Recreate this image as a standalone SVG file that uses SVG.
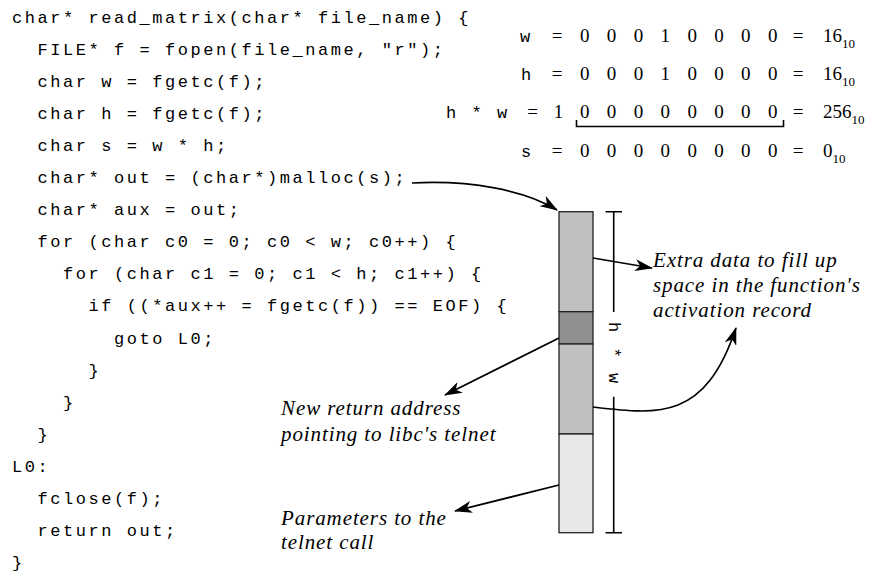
<svg xmlns="http://www.w3.org/2000/svg" width="871" height="572" viewBox="0 0 871 572">
  <style>
    .code { font-family: "Liberation Mono", "DejaVu Sans Mono", monospace; font-size: 17px; letter-spacing: 2.55px; fill: #000; }
    .mono { font-family: "Liberation Mono", "DejaVu Sans Mono", monospace; font-size: 17px; letter-spacing: 2.55px; fill: #000; }
    .num { font-family: "Liberation Serif", "DejaVu Serif", serif; font-size: 19px; fill: #000; }
    .digits { font-family: "Liberation Serif", "DejaVu Serif", serif; font-size: 19px; letter-spacing: 6.3px; fill: #000; }
    .sub { font-size: 13px; }
    .eq { text-anchor: middle; }
    .label { font-family: "Liberation Serif", "DejaVu Serif", serif; font-style: italic; font-size: 21px; letter-spacing: 0.9px; fill: #000; }
    .seg { stroke: #222; stroke-width: 1.3; }
    .conn { fill: none; stroke: #000; stroke-width: 1.7; }
    .dim { fill: none; stroke: #000; stroke-width: 1.6; }
  </style>
  <defs>
    <marker id="ah" markerUnits="userSpaceOnUse" markerWidth="18" markerHeight="12" viewBox="0 0 18 12" refX="17" refY="6" orient="auto">
      <path d="M0,0 L18,6 L0,12 L5,6 z" fill="#000"/>
    </marker>
  </defs>

  <g id="code">
    <text class="code" x="12" y="22.5">char* read_matrix(char* file_name) {</text>
    <text class="code" x="37.5" y="54.6">FILE* f = fopen(file_name, "r");</text>
    <text class="code" x="37.5" y="86.7">char w = fgetc(f);</text>
    <text class="code" x="37.5" y="118.8">char h = fgetc(f);</text>
    <text class="code" x="37.5" y="150.9">char s = w * h;</text>
    <text class="code" x="37.5" y="183">char* out = (char*)malloc(s);</text>
    <text class="code" x="37.5" y="215.1">char* aux = out;</text>
    <text class="code" x="37.5" y="247.2">for (char c0 = 0; c0 &lt; w; c0++) {</text>
    <text class="code" x="63" y="279.3">for (char c1 = 0; c1 &lt; h; c1++) {</text>
    <text class="code" x="88.5" y="311.4">if ((*aux++ = fgetc(f)) == EOF) {</text>
    <text class="code" x="114" y="343.5">goto L0;</text>
    <text class="code" x="88.5" y="375.6">}</text>
    <text class="code" x="63" y="407.7">}</text>
    <text class="code" x="37.5" y="439.8">}</text>
    <text class="code" x="12" y="471.9">L0:</text>
    <text class="code" x="37.5" y="504">fclose(f);</text>
    <text class="code" x="37.5" y="536.1">return out;</text>
    <text class="code" x="12" y="568.2">}</text>
  </g>

  <g id="math">
    <g id="row-w">
      <text class="mono" x="520" y="42">w</text>
      <text class="num eq" x="557" y="42">=</text>
      <text class="digits" x="580" y="42">0 0 0 1 0 0 0 0</text>
      <text class="num eq" x="798" y="42">=</text>
      <text class="num" x="823" y="42">16<tspan class="sub" dy="6">10</tspan></text>
    </g>
    <g id="row-h">
      <text class="mono" x="521" y="80">h</text>
      <text class="num eq" x="557" y="80">=</text>
      <text class="digits" x="580" y="80">0 0 0 1 0 0 0 0</text>
      <text class="num eq" x="798" y="80">=</text>
      <text class="num" x="823" y="80">16<tspan class="sub" dy="6">10</tspan></text>
    </g>
    <g id="row-hw">
      <text class="mono" x="446" y="118">h * w</text>
      <text class="num eq" x="532.5" y="118">=</text>
      <text class="num eq" x="558.5" y="118">1</text>
      <text class="digits" x="580" y="118">0 0 0 0 0 0 0 0</text>
      <text class="num eq" x="798" y="118">=</text>
      <text class="num" x="823" y="118">256<tspan class="sub" dy="6">10</tspan></text>
      <path class="dim" d="M576.5,120 V126.5 H783.5 V120"/>
    </g>
    <g id="row-s">
      <text class="mono" x="521" y="157">s</text>
      <text class="num eq" x="557" y="157">=</text>
      <text class="digits" x="580" y="157">0 0 0 0 0 0 0 0</text>
      <text class="num eq" x="798" y="157">=</text>
      <text class="num" x="823" y="157">0<tspan class="sub" dy="6">10</tspan></text>
    </g>
  </g>

  <g id="buffer">
    <rect class="seg" x="559" y="211.7" width="34" height="100" fill="#c0c0c0"/>
    <rect class="seg" x="559" y="311.7" width="34" height="32.3" fill="#909090"/>
    <rect class="seg" x="559" y="344" width="34" height="90" fill="#c0c0c0"/>
    <rect class="seg" x="559" y="434" width="34" height="98.7" fill="#e8e8e8"/>
  </g>

  <g id="size-dimension">
    <path class="dim" d="M605.5,211.7 H622 M613.7,211.7 V312 M613.7,396.7 V532.7 M605.5,532.7 H622"/>
    <text class="mono" transform="translate(608.5,322) rotate(90)">h * w</text>
  </g>

  <g id="label-extra">
    <text class="label" x="653" y="267">Extra data to fill up</text>
    <text class="label" x="653" y="292">space in the function's</text>
    <text class="label" x="653" y="317">activation record</text>
  </g>
  <g id="label-return">
    <text class="label" x="281" y="415">New return address</text>
    <text class="label" x="281" y="441">pointing to libc's telnet</text>
  </g>
  <g id="label-params">
    <text class="label" x="281" y="525">Parameters to the</text>
    <text class="label" x="281" y="549">telnet call</text>
  </g>

  <g id="connectors">
    <path class="conn" d="M412,183 C470,180 525,190 557,210" marker-end="url(#ah)"/>
    <path class="conn" d="M593,258 L652,268" marker-end="url(#ah)"/>
    <path class="conn" d="M559,338 L445,395" marker-end="url(#ah)"/>
    <path class="conn" d="M559,485 L455,511" marker-end="url(#ah)"/>
    <path class="conn" d="M593,407 C660,415 705,420 736,328" marker-end="url(#ah)"/>
  </g>
</svg>
